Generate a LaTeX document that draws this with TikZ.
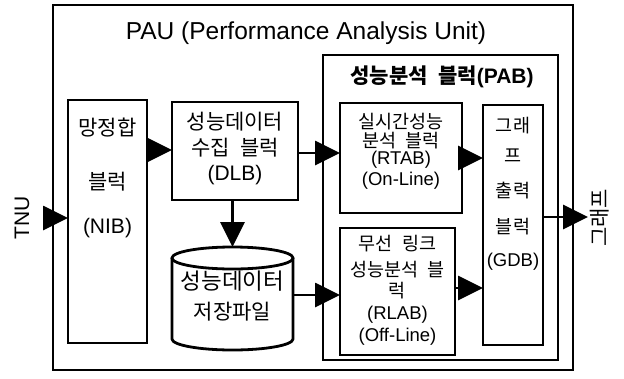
\documentclass[tikz,border=0pt]{standalone}
\usepackage{fontspec}
\setmainfont{Liberation Sans}
\newfontfamily\kr{Noto Sans CJK KR}
\usetikzlibrary{arrows.meta}
\begin{document}
\begin{tikzpicture}[x=1pt,y=-1pt,
  box/.style={draw=black, line width=2.8pt, fill=none, inner sep=0pt, outer sep=0pt},
  outerbox/.style={draw=black, line width=2.2pt, inner sep=0pt, outer sep=0pt},
  arr/.style={line width=2.8pt, -{Triangle[length=25pt,width=24pt]}},
  txt/.style={inner sep=0pt, font=\fontsize{21}{23}\selectfont},
  stxt/.style={inner sep=0pt, font=\fontsize{18.5}{20}\selectfont},
  ttl/.style={inner sep=0pt, font=\fontsize{24.5}{27}\selectfont},
  pabttl/.style={inner sep=0pt, font=\bfseries\fontsize{21}{23}\selectfont}]
\useasboundingbox[fill=white] (0,0) rectangle (624,378);
% outer PAU box
\node[outerbox, minimum width=520pt, minimum height=365pt] (pau) at (313,187.5) {};
\node[ttl] (pauttl) at (306,33) {PAU (Performance Analysis Unit)};
% PAB box
\node[box, minimum width=235pt, minimum height=305pt] (pab) at (440.5,207.5) {};
\node[pabttl] (pabttl) at (442,77) {{\kr\bfseries 성능분석\hspace{0.5em}블럭}(PAB)};
% NIB
\node[box, minimum width=79pt, minimum height=243pt] (nib) at (107.5,221.5) {};
\node[txt] at (107.5,128) {\kr 망정합};
\node[txt] at (107.5,182) {\kr 블럭};
\node[txt] at (107.5,228) {(NIB)};
% DLB
\node[box, minimum width=126pt, minimum height=98pt] (dlb) at (235,151) {};
\node[txt] at (235,122) {\kr 성능데이터};
\node[txt] at (235,148) {\kr 수집\hspace{0.5em}블럭};
\node[txt] at (235,175) {(DLB)};
% cylinder
\node[inner sep=0pt, outer sep=0pt, minimum width=121pt, minimum height=103pt] (cyl) at (232.5,298.5) {};
\draw[line width=2.8pt] (cyl.north west) ++(0,11) -- ++(0,81)
  arc[start angle=180, end angle=360, x radius=60.5pt, y radius=11pt] -- ++(0,-81);
\draw[line width=2.8pt] (232.5,258) ellipse [x radius=60.5pt, y radius=11pt];
\node[inner sep=0pt, font=\fontsize{22.5}{24}\selectfont] at (232.5,281) {\kr 성능데이터};
\node[txt] at (232.5,312) {\kr 저장파일};
% RTAB
\node[box, minimum width=122pt, minimum height=110pt] (rtab) at (401,158) {};
\node[stxt] at (401,122) {\kr 실시간성능};
\node[stxt] at (401,141) {\kr 분석\hspace{0.5em}블럭};
\node[stxt] at (401,160) {(RTAB)};
\node[stxt] at (401,181) {(On-Line)};
% RLAB
\node[box, minimum width=115pt, minimum height=127pt] (rlab) at (397.5,291.5) {};
\node[stxt] at (397.5,244) {\kr 무선\hspace{0.5em}링크};
\node[stxt] at (397.5,270) {\kr 성능분석\hspace{0.5em}블};
\node[stxt] at (397.5,291) {\kr 럭};
\node[stxt] at (397.5,315) {(RLAB)};
\node[stxt] at (397.5,337) {(Off-Line)};
% GDB
\node[box, minimum width=60pt, minimum height=240pt] (gdb) at (513,225) {};
\node[stxt] at (513,126) {\kr 그래};
\node[stxt] at (513,156) {\kr 프};
\node[stxt] at (513,191) {\kr 출력};
\node[stxt] at (513,227) {\kr 블럭};
\node[stxt] at (513,262) {(GDB)};
% external labels
\node[txt, rotate=90] (tnu) at (22,218) {TNU};
\node[txt, rotate=90] (graph) at (600,218) {\kr 그래프};
\coordinate (tnuin) at (43,218);
\coordinate (gout) at (588,217);
% connectors
\draw[arr] (tnuin) -- (tnuin -| nib.west);
\draw[arr] (nib.east |- 0,150) -- (dlb.west |- 0,150);
\draw[arr] (dlb.east |- 0,153) -- (rtab.west |- 0,153);
\draw[arr] (dlb.south -| 232.5,0) -- (cyl.north);
\draw[arr] (cyl.east |- 0,295) -- (rlab.west |- 0,295);
\draw[arr] (rtab.east |- 0,158) -- (gdb.west |- 0,158);
\draw[arr] (rlab.east |- 0,288) -- (gdb.west |- 0,288);
\draw[arr] (gdb.east |- gout) -- (gout);
\end{tikzpicture}
\end{document}
